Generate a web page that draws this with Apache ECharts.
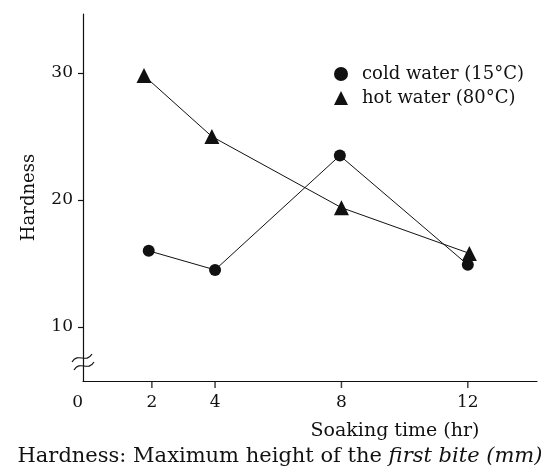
<!DOCTYPE html>
<html>
<head>
<meta charset="utf-8">
<script src="https://cdn.jsdelivr.net/npm/echarts@6/dist/echarts.min.js"></script>
<style>
  html, body { margin: 0; padding: 0; background: #fff; }
  #chart { width: 556px; height: 475px; }
</style>
</head>
<body>
<div id="chart"></div>
<script>
// Hardness of the first bite vs. soaking time, cold vs. hot water
const seriesNames = ['cold water (15°C)', 'hot water (80°C)'];
const coldWater = [[1.9, 16.0], [4.0, 14.5], [7.95, 23.5], [12.0, 14.9]];
const hotWater = [[1.75, 29.8], [3.9, 25.0], [8.0, 19.4], [12.05, 15.8]];
const xTickValues = [2, 4, 8, 12];
const xLabelValues = [0, 2, 4, 8, 12];
const yTickValues = [10, 20, 30];

const Y_MIN = 5.75;
const Y_MAX = 34.65;
const FONT = '"DejaVu Serif", "Liberation Serif", serif';
const INK = '#111';

const chart = echarts.init(document.getElementById('chart'), null, { renderer: 'canvas' });

chart.setOption({
  backgroundColor: '#fff',
  animation: false,
  grid: { left: 83, right: 19, top: 14, bottom: 94 },
  legend: {
    orient: 'vertical',
    left: 329,
    top: 60,
    itemWidth: 14,
    itemHeight: 14,
    itemGap: 6,
    textStyle: { fontFamily: FONT, fontSize: 18, color: INK, padding: [0, 0, 0, 9] },
    data: [
      { name: seriesNames[0], icon: 'circle' },
      { name: seriesNames[1], icon: 'triangle' }
    ]
  },
  xAxis: {
    type: 'value',
    min: -0.18,
    max: 14.19,
    axisLine: { onZero: false, lineStyle: { color: INK, width: 1.2 } },
    axisTick: { show: false },
    splitLine: { show: false },
    axisLabel: {
      customValues: xLabelValues,
      margin: 13,
      fontFamily: FONT,
      fontSize: 17,
      color: INK,
      formatter: v => (v === 0 ? '{z|0}' : String(v)),
      rich: { z: { fontFamily: FONT, fontSize: 17, color: INK, padding: [0, 22, 0, 0] } }
    }
  },
  yAxis: {
    type: 'value',
    min: Y_MIN,
    max: Y_MAX,
    name: 'Hardness',
    nameLocation: 'middle',
    nameRotate: 90,
    nameGap: 45,
    nameTextStyle: { fontFamily: FONT, fontSize: 18, color: INK },
    axisLine: { show: true, onZero: false, lineStyle: { color: INK, width: 1.2 } },
    axisTick: { show: true, customValues: yTickValues, length: 5, lineStyle: { color: INK, width: 1.2 } },
    splitLine: { show: false },
    axisLabel: {
      customValues: yTickValues,
      margin: 10,
      fontFamily: FONT,
      fontSize: 17,
      color: INK
    }
  },
  series: [
    {
      name: seriesNames[0],
      type: 'line',
      data: coldWater,
      symbol: 'circle',
      symbolSize: 12,
      itemStyle: { color: INK },
      lineStyle: { color: INK, width: 1 },
      z: 3
    },
    {
      name: seriesNames[1],
      type: 'line',
      data: hotWater,
      symbol: 'triangle',
      symbolSize: 15,
      itemStyle: { color: INK },
      lineStyle: { color: INK, width: 1 },
      z: 3
    },
    {
      // tick marks under the time axis
      name: 'time ticks',
      type: 'scatter',
      data: xTickValues.map(v => [v, Y_MIN]),
      symbol: 'rect',
      symbolSize: [1.5, 7],
      symbolOffset: [0, 3.5],
      itemStyle: { color: INK },
      silent: true,
      clip: false,
      z: 2
    }
  ],
  graphic: [
    // axis break marks on the value axis
    {
      type: 'bezierCurve',
      shape: { x1: 72, y1: 362, x2: 92, y2: 354, cpx1: 78, cpy1: 352, cpx2: 86, cpy2: 364 },
      style: { stroke: INK, lineWidth: 1.2, fill: null }
    },
    {
      type: 'bezierCurve',
      shape: { x1: 74, y1: 370, x2: 94, y2: 362, cpx1: 80, cpy1: 360, cpx2: 88, cpy2: 372 },
      style: { stroke: INK, lineWidth: 1.2, fill: null }
    },
    {
      type: 'text',
      x: 395,
      y: 431,
      style: {
        text: 'Soaking time (hr)',
        fontFamily: FONT,
        fontSize: 19,
        fill: INK,
        align: 'center',
        verticalAlign: 'middle'
      }
    },
    {
      type: 'text',
      x: 280,
      y: 457,
      style: {
        text: 'Hardness: Maximum height of the {i|first bite (mm)}',
        fontFamily: FONT,
        fontSize: 21,
        fill: INK,
        align: 'center',
        verticalAlign: 'middle',
        rich: { i: { fontFamily: FONT, fontSize: 21, fontStyle: 'italic', fill: INK } }
      }
    }
  ]
});
</script>
</body>
</html>
